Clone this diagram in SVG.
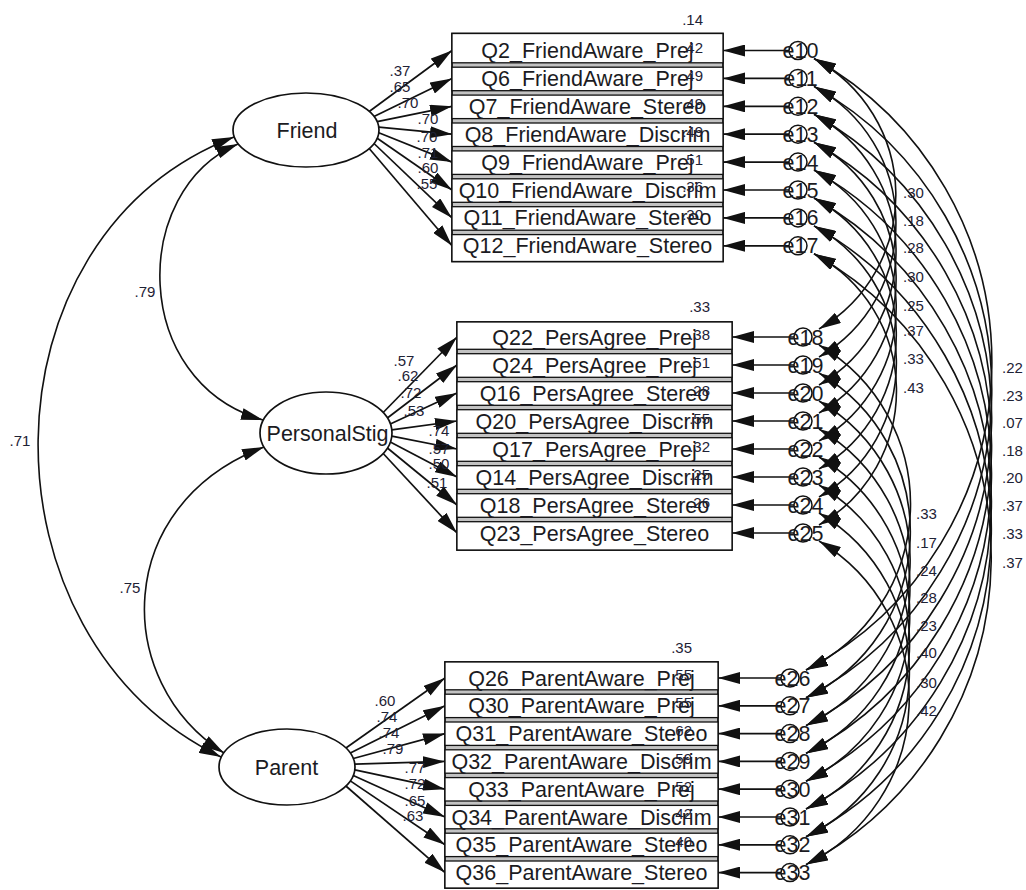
<svg xmlns="http://www.w3.org/2000/svg" width="1026" height="890" viewBox="0 0 1026 890">
<defs>
<marker id="ah" viewBox="0 0 22 12" refX="22" refY="6" markerWidth="22" markerHeight="12" markerUnits="userSpaceOnUse" orient="auto-start-reverse"><path d="M0,0 L22,6 L0,12 z" fill="#111"/></marker>
<style>
.ln{stroke:#111;stroke-width:1.7;fill:none}
.ar{stroke:#111;stroke-width:1.7;fill:none;marker-end:url(#ah)}
.cv{stroke:#111;stroke-width:1.6;fill:none;marker-start:url(#ah);marker-end:url(#ah)}
.frame{fill:#c2c2c2;stroke:#111;stroke-width:1.8}
.cell{fill:#fff;stroke:#111;stroke-width:1.3}
.lat{fill:#fff;stroke:#111;stroke-width:1.7}
.err{fill:none;stroke:#111;stroke-width:1.5}
.t{font-family:"Liberation Sans",Arial,sans-serif;font-size:21.5px;fill:#1b1b22;text-anchor:middle}
.n{font-family:"Liberation Sans",Arial,sans-serif;font-size:15px;fill:#1e2235}
.c{text-anchor:middle}
.e{text-anchor:end}
</style>
</defs>
<rect width="1026" height="890" fill="#fff"/>

<!-- connectors -->
<g id="connectors">
<!-- latent covariances -->
<path class="cv" d="M238,144 C130,190 130,382 263,420"/>
<path class="cv" d="M264,447 C112,505 112,682 224,753"/>
<path class="cv" d="M234,137 C-25,237 -25,638 221,757"/>
<!-- Friend loadings -->
<line class="ar" x1="369.2" y1="111.5" x2="452" y2="50.5"/>
<line class="ar" x1="374" y1="116.5" x2="452" y2="78.4"/>
<line class="ar" x1="377.2" y1="121.7" x2="452" y2="106.3"/>
<line class="ar" x1="378.8" y1="127.2" x2="452" y2="134.2"/>
<line class="ar" x1="378.8" y1="132.8" x2="452" y2="162.1"/>
<line class="ar" x1="377.2" y1="138.3" x2="452" y2="190"/>
<line class="ar" x1="374" y1="143.5" x2="452" y2="217.9"/>
<line class="ar" x1="369.2" y1="148.5" x2="452" y2="245.8"/>
<!-- PersonalStig loadings -->
<line class="ar" x1="383.2" y1="412.5" x2="457" y2="337"/>
<line class="ar" x1="387.4" y1="418" x2="457" y2="365"/>
<line class="ar" x1="390.3" y1="423.9" x2="457" y2="393"/>
<line class="ar" x1="391.8" y1="429.9" x2="457" y2="421"/>
<line class="ar" x1="391.8" y1="436.1" x2="457" y2="449"/>
<line class="ar" x1="390.3" y1="442.1" x2="457" y2="477"/>
<line class="ar" x1="387.4" y1="448" x2="457" y2="505"/>
<line class="ar" x1="383.2" y1="453.5" x2="457" y2="533"/>
<!-- Parent loadings -->
<line class="ar" x1="345.9" y1="748" x2="445" y2="678"/>
<line class="ar" x1="350.3" y1="753.1" x2="445" y2="705.8"/>
<line class="ar" x1="353.3" y1="758.5" x2="445" y2="733.6"/>
<line class="ar" x1="354.8" y1="764.2" x2="445" y2="761.4"/>
<line class="ar" x1="354.8" y1="769.8" x2="445" y2="789.2"/>
<line class="ar" x1="353.3" y1="775.5" x2="445" y2="817"/>
<line class="ar" x1="350.3" y1="780.9" x2="445" y2="844.8"/>
<line class="ar" x1="345.9" y1="786" x2="445" y2="872.6"/>
<!-- error terms to indicators -->
<line class="ar" x1="789" y1="50.5" x2="723" y2="50.5"/>
<line class="ar" x1="789" y1="78.4" x2="723" y2="78.4"/>
<line class="ar" x1="789" y1="106.3" x2="723" y2="106.3"/>
<line class="ar" x1="789" y1="134.2" x2="723" y2="134.2"/>
<line class="ar" x1="789" y1="162.1" x2="723" y2="162.1"/>
<line class="ar" x1="789" y1="190" x2="723" y2="190"/>
<line class="ar" x1="789" y1="217.9" x2="723" y2="217.9"/>
<line class="ar" x1="789" y1="245.8" x2="723" y2="245.8"/>
<line class="ar" x1="794" y1="337" x2="732" y2="337"/>
<line class="ar" x1="794" y1="365" x2="732" y2="365"/>
<line class="ar" x1="794" y1="393" x2="732" y2="393"/>
<line class="ar" x1="794" y1="421" x2="732" y2="421"/>
<line class="ar" x1="794" y1="449" x2="732" y2="449"/>
<line class="ar" x1="794" y1="477" x2="732" y2="477"/>
<line class="ar" x1="794" y1="505" x2="732" y2="505"/>
<line class="ar" x1="794" y1="533" x2="732" y2="533"/>
<line class="ar" x1="781" y1="678" x2="718" y2="678"/>
<line class="ar" x1="781" y1="705.8" x2="718" y2="705.8"/>
<line class="ar" x1="781" y1="733.6" x2="718" y2="733.6"/>
<line class="ar" x1="781" y1="761.4" x2="718" y2="761.4"/>
<line class="ar" x1="781" y1="789.2" x2="718" y2="789.2"/>
<line class="ar" x1="781" y1="817" x2="718" y2="817"/>
<line class="ar" x1="781" y1="844.8" x2="718" y2="844.8"/>
<line class="ar" x1="781" y1="872.6" x2="718" y2="872.6"/>
<!-- error covariances: Friend / PersonalStig -->
<path class="cv" d="M814,58.5 A155,155 0 0 1 819,329"/>
<path class="cv" d="M814,86.4 A155,155 0 0 1 819,357"/>
<path class="cv" d="M814,114.3 A155,155 0 0 1 819,385"/>
<path class="cv" d="M814,142.2 A155,155 0 0 1 819,413"/>
<path class="cv" d="M814,170.1 A155,155 0 0 1 819,441"/>
<path class="cv" d="M814,198 A155,155 0 0 1 819,469"/>
<path class="cv" d="M814,225.9 A155,155 0 0 1 819,497"/>
<path class="cv" d="M814,253.8 A155,155 0 0 1 819,525"/>
<!-- error covariances: PersonalStig / Parent -->
<path class="cv" d="M819,345 A184,184 0 0 1 806,670"/>
<path class="cv" d="M819,373 A184,184 0 0 1 806,697.8"/>
<path class="cv" d="M819,401 A184,184 0 0 1 806,725.6"/>
<path class="cv" d="M819,429 A184,184 0 0 1 806,753.4"/>
<path class="cv" d="M819,457 A184,184 0 0 1 806,781.2"/>
<path class="cv" d="M819,485 A184,184 0 0 1 806,809"/>
<path class="cv" d="M819,513 A184,184 0 0 1 806,836.8"/>
<path class="cv" d="M819,541 A184,184 0 0 1 806,864.6"/>
<!-- error covariances: Friend / Parent -->
<path class="cv" d="M814,58.5 A348,348 0 0 1 806,670"/>
<path class="cv" d="M814,86.4 A348,348 0 0 1 806,697.8"/>
<path class="cv" d="M814,114.3 A348,348 0 0 1 806,725.6"/>
<path class="cv" d="M814,142.2 A348,348 0 0 1 806,753.4"/>
<path class="cv" d="M814,170.1 A348,348 0 0 1 806,781.2"/>
<path class="cv" d="M814,198 A348,348 0 0 1 806,809"/>
<path class="cv" d="M814,225.9 A348,348 0 0 1 806,836.8"/>
<path class="cv" d="M814,253.8 A348,348 0 0 1 806,864.6"/>
<!-- coefficient labels -->
<text class="n c" x="145" y="296.5">.79</text>
<text class="n c" x="130" y="592.5">.75</text>
<text class="n c" x="20" y="445.5">.71</text>
<text class="n c" x="400" y="75.5">.37</text>
<text class="n c" x="400" y="91.5">.65</text>
<text class="n c" x="408" y="107.5">.70</text>
<text class="n c" x="428" y="123.5">.70</text>
<text class="n c" x="427" y="141.5">.70</text>
<text class="n c" x="428" y="157.5">.71</text>
<text class="n c" x="428" y="172.5">.60</text>
<text class="n c" x="427" y="188.5">.55</text>
<text class="n c" x="404" y="365.5">.57</text>
<text class="n c" x="408" y="380.5">.62</text>
<text class="n c" x="411" y="397.5">.72</text>
<text class="n c" x="414" y="415.5">.53</text>
<text class="n c" x="439" y="435.5">.74</text>
<text class="n c" x="439" y="453.5">.57</text>
<text class="n c" x="439" y="468.5">.50</text>
<text class="n c" x="437" y="487.5">.51</text>
<text class="n c" x="385" y="705.5">.60</text>
<text class="n c" x="387" y="721.5">.74</text>
<text class="n c" x="389" y="737.5">.74</text>
<text class="n c" x="393" y="753.5">.79</text>
<text class="n c" x="415" y="772.5">.77</text>
<text class="n c" x="415" y="788.5">.72</text>
<text class="n c" x="415" y="805.5">.65</text>
<text class="n c" x="413" y="820.5">.63</text>
<text class="n" x="903" y="197.5">.30</text>
<text class="n" x="903" y="225.5">.18</text>
<text class="n" x="903" y="252.5">.28</text>
<text class="n" x="903" y="281.5">.30</text>
<text class="n" x="903" y="310.5">.25</text>
<text class="n" x="903" y="335.5">.37</text>
<text class="n" x="903" y="363.5">.33</text>
<text class="n" x="903" y="392.5">.43</text>
<text class="n" x="916" y="518.5">.33</text>
<text class="n" x="916" y="547.5">.17</text>
<text class="n" x="916" y="575.5">.24</text>
<text class="n" x="916" y="602.5">.28</text>
<text class="n" x="916" y="630.5">.23</text>
<text class="n" x="916" y="657.5">.40</text>
<text class="n" x="916" y="687.5">.30</text>
<text class="n" x="916" y="715.5">.42</text>
<text class="n" x="1002" y="372.5">.22</text>
<text class="n" x="1002" y="400.5">.23</text>
<text class="n" x="1002" y="427.5">.07</text>
<text class="n" x="1002" y="455.5">.18</text>
<text class="n" x="1002" y="482.5">.20</text>
<text class="n" x="1002" y="510.5">.37</text>
<text class="n" x="1002" y="538.5">.33</text>
<text class="n" x="1002" y="567.5">.37</text>
</g>

<!-- latent variables -->
<g id="friend"><ellipse class="lat" cx="306" cy="130" rx="73" ry="37"/><text class="t" x="307" y="137.5">Friend</text></g>
<g id="personalstig"><ellipse class="lat" cx="326" cy="433" rx="66" ry="41"/><text class="t" x="327.5" y="440.5">PersonalStig</text></g>
<g id="parent"><ellipse class="lat" cx="287" cy="767" rx="68" ry="38"/><text class="t" x="286.5" y="774.5">Parent</text></g>

<!-- Friend indicators -->
<rect class="frame" x="452" y="33.5" width="271" height="228"/>
<g id="q2"><rect class="cell" x="452" y="33.5" width="271" height="29.3"/><text class="t" x="587.5" y="58">Q2_FriendAware_Prej</text></g>
<g id="q6"><rect class="cell" x="452" y="67.2" width="271" height="23.5"/><text class="t" x="587.5" y="85.9">Q6_FriendAware_Prej</text></g>
<g id="q7"><rect class="cell" x="452" y="95.1" width="271" height="23.5"/><text class="t" x="587.5" y="113.8">Q7_FriendAware_Stereo</text></g>
<g id="q8"><rect class="cell" x="452" y="123" width="271" height="23.5"/><text class="t" x="587.5" y="141.7">Q8_FriendAware_Discrim</text></g>
<g id="q9"><rect class="cell" x="452" y="150.9" width="271" height="23.5"/><text class="t" x="587.5" y="169.6">Q9_FriendAware_Prej</text></g>
<g id="q10"><rect class="cell" x="452" y="178.8" width="271" height="23.5"/><text class="t" x="587.5" y="197.5">Q10_FriendAware_Discrim</text></g>
<g id="q11"><rect class="cell" x="452" y="206.7" width="271" height="23.5"/><text class="t" x="587.5" y="225.4">Q11_FriendAware_Stereo</text></g>
<g id="q12"><rect class="cell" x="452" y="234.6" width="271" height="26.9"/><text class="t" x="587.5" y="253.3">Q12_FriendAware_Stereo</text></g>

<!-- PersonalStig indicators -->
<rect class="frame" x="457" y="322" width="275" height="228"/>
<g id="q22"><rect class="cell" x="457" y="322" width="275" height="27.3"/><text class="t" x="594.5" y="344.5">Q22_PersAgree_Prej</text></g>
<g id="q24"><rect class="cell" x="457" y="353.7" width="275" height="23.6"/><text class="t" x="594.5" y="372.5">Q24_PersAgree_Prej</text></g>
<g id="q16"><rect class="cell" x="457" y="381.7" width="275" height="23.6"/><text class="t" x="594.5" y="400.5">Q16_PersAgree_Stereo</text></g>
<g id="q20"><rect class="cell" x="457" y="409.7" width="275" height="23.6"/><text class="t" x="594.5" y="428.5">Q20_PersAgree_Discrim</text></g>
<g id="q17"><rect class="cell" x="457" y="437.7" width="275" height="23.6"/><text class="t" x="594.5" y="456.5">Q17_PersAgree_Prej</text></g>
<g id="q14"><rect class="cell" x="457" y="465.7" width="275" height="23.6"/><text class="t" x="594.5" y="484.5">Q14_PersAgree_Discrim</text></g>
<g id="q18"><rect class="cell" x="457" y="493.7" width="275" height="23.6"/><text class="t" x="594.5" y="512.5">Q18_PersAgree_Stereo</text></g>
<g id="q23"><rect class="cell" x="457" y="521.7" width="275" height="28.3"/><text class="t" x="594.5" y="540.5">Q23_PersAgree_Stereo</text></g>

<!-- Parent indicators -->
<rect class="frame" x="445" y="662" width="273" height="226"/>
<g id="q26"><rect class="cell" x="445" y="662" width="273" height="27.8"/><text class="t" x="581.5" y="685.5">Q26_ParentAware_Prej</text></g>
<g id="q30"><rect class="cell" x="445" y="694.2" width="273" height="23.4"/><text class="t" x="581.5" y="713.3">Q30_ParentAware_Prej</text></g>
<g id="q31"><rect class="cell" x="445" y="722" width="273" height="23.4"/><text class="t" x="581.5" y="741.1">Q31_ParentAware_Stereo</text></g>
<g id="q32"><rect class="cell" x="445" y="749.8" width="273" height="23.4"/><text class="t" x="581.5" y="768.9">Q32_ParentAware_Discrim</text></g>
<g id="q33"><rect class="cell" x="445" y="777.6" width="273" height="23.4"/><text class="t" x="581.5" y="796.7">Q33_ParentAware_Prej</text></g>
<g id="q34"><rect class="cell" x="445" y="805.4" width="273" height="23.4"/><text class="t" x="581.5" y="824.5">Q34_ParentAware_Discrim</text></g>
<g id="q35"><rect class="cell" x="445" y="833.2" width="273" height="23.4"/><text class="t" x="581.5" y="852.3">Q35_ParentAware_Stereo</text></g>
<g id="q36"><rect class="cell" x="445" y="861" width="273" height="27"/><text class="t" x="581.5" y="880.1">Q36_ParentAware_Stereo</text></g>

<!-- squared multiple correlations -->
<g id="r2">
<text class="n e" x="703" y="25">.14</text>
<text class="n e" x="703" y="52.9">.42</text>
<text class="n e" x="703" y="80.8">.49</text>
<text class="n e" x="703" y="108.7">.49</text>
<text class="n e" x="703" y="136.6">.49</text>
<text class="n e" x="703" y="164.5">.51</text>
<text class="n e" x="703" y="192.4">.36</text>
<text class="n e" x="703" y="220.3">.30</text>
<text class="n e" x="710" y="311.5">.33</text>
<text class="n e" x="710" y="339.5">.38</text>
<text class="n e" x="710" y="367.5">.51</text>
<text class="n e" x="710" y="395.5">.28</text>
<text class="n e" x="710" y="423.5">.55</text>
<text class="n e" x="710" y="451.5">.32</text>
<text class="n e" x="710" y="479.5">.25</text>
<text class="n e" x="710" y="507.5">.26</text>
<text class="n e" x="692" y="652.5">.35</text>
<text class="n e" x="692" y="680.3">.55</text>
<text class="n e" x="692" y="708.1">.55</text>
<text class="n e" x="692" y="735.9">.62</text>
<text class="n e" x="692" y="763.7">.59</text>
<text class="n e" x="692" y="791.5">.52</text>
<text class="n e" x="692" y="819.3">.42</text>
<text class="n e" x="692" y="847.1">.40</text>
</g>

<!-- error terms -->
<g id="e10"><circle class="err" cx="798" cy="50.5" r="9"/><text class="t" x="800.5" y="58">e10</text></g>
<g id="e11"><circle class="err" cx="798" cy="78.4" r="9"/><text class="t" x="800.5" y="85.9">e11</text></g>
<g id="e12"><circle class="err" cx="798" cy="106.3" r="9"/><text class="t" x="800.5" y="113.8">e12</text></g>
<g id="e13"><circle class="err" cx="798" cy="134.2" r="9"/><text class="t" x="800.5" y="141.7">e13</text></g>
<g id="e14"><circle class="err" cx="798" cy="162.1" r="9"/><text class="t" x="800.5" y="169.6">e14</text></g>
<g id="e15"><circle class="err" cx="798" cy="190" r="9"/><text class="t" x="800.5" y="197.5">e15</text></g>
<g id="e16"><circle class="err" cx="798" cy="217.9" r="9"/><text class="t" x="800.5" y="225.4">e16</text></g>
<g id="e17"><circle class="err" cx="798" cy="245.8" r="9"/><text class="t" x="800.5" y="253.3">e17</text></g>
<g id="e18"><circle class="err" cx="803" cy="337" r="9"/><text class="t" x="805.5" y="344.5">e18</text></g>
<g id="e19"><circle class="err" cx="803" cy="365" r="9"/><text class="t" x="805.5" y="372.5">e19</text></g>
<g id="e20"><circle class="err" cx="803" cy="393" r="9"/><text class="t" x="805.5" y="400.5">e20</text></g>
<g id="e21"><circle class="err" cx="803" cy="421" r="9"/><text class="t" x="805.5" y="428.5">e21</text></g>
<g id="e22"><circle class="err" cx="803" cy="449" r="9"/><text class="t" x="805.5" y="456.5">e22</text></g>
<g id="e23"><circle class="err" cx="803" cy="477" r="9"/><text class="t" x="805.5" y="484.5">e23</text></g>
<g id="e24"><circle class="err" cx="803" cy="505" r="9"/><text class="t" x="805.5" y="512.5">e24</text></g>
<g id="e25"><circle class="err" cx="803" cy="533" r="9"/><text class="t" x="805.5" y="540.5">e25</text></g>
<g id="e26"><circle class="err" cx="790" cy="678" r="9"/><text class="t" x="792.5" y="685.5">e26</text></g>
<g id="e27"><circle class="err" cx="790" cy="705.8" r="9"/><text class="t" x="792.5" y="713.3">e27</text></g>
<g id="e28"><circle class="err" cx="790" cy="733.6" r="9"/><text class="t" x="792.5" y="741.1">e28</text></g>
<g id="e29"><circle class="err" cx="790" cy="761.4" r="9"/><text class="t" x="792.5" y="768.9">e29</text></g>
<g id="e30"><circle class="err" cx="790" cy="789.2" r="9"/><text class="t" x="792.5" y="796.7">e30</text></g>
<g id="e31"><circle class="err" cx="790" cy="817" r="9"/><text class="t" x="792.5" y="824.5">e31</text></g>
<g id="e32"><circle class="err" cx="790" cy="844.8" r="9"/><text class="t" x="792.5" y="852.3">e32</text></g>
<g id="e33"><circle class="err" cx="790" cy="872.6" r="9"/><text class="t" x="792.5" y="880.1">e33</text></g>
</svg>
